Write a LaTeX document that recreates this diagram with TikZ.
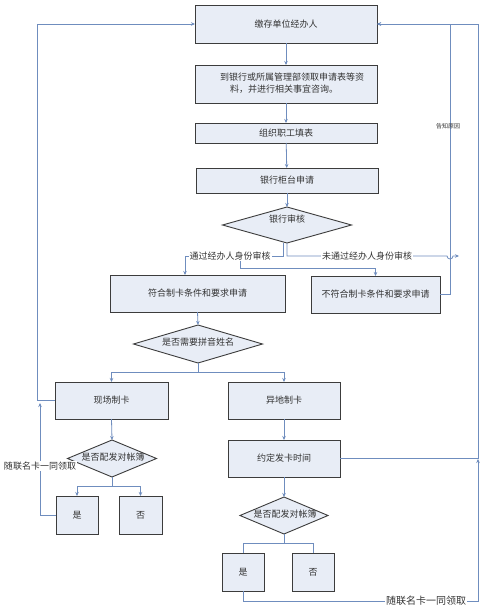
\documentclass[tikz,border=0pt]{standalone}
\usepackage{fontspec}
\setmainfont{Noto Sans CJK SC}
\usetikzlibrary{shapes.geometric,arrows.meta,calc}
\definecolor{ln}{HTML}{6F8DBE}
\definecolor{bx}{HTML}{E8EDF6}
\definecolor{bd}{HTML}{3C3C3C}
\definecolor{tx}{HTML}{333333}
\tikzset{
  box/.style={draw=bd,line width=0.9pt,fill=bx,inner sep=0pt,outer sep=0pt,font=\fontsize{9}{11}\selectfont,text=tx},
  diam/.style={diamond,draw=bd,line width=0.9pt,fill=bx,inner sep=0pt,outer sep=0pt},
  lbl/.style={font=\fontsize{9}{11}\selectfont,text=tx,inner sep=1pt},
  conn/.style={draw=ln,line width=0.8pt},
  arr/.style={conn,-{Stealth[length=4pt,width=3.5pt]}}
}
\begin{document}
\begin{tikzpicture}[x=1pt,y=-1pt]
\useasboundingbox[fill=white] (0,0) rectangle (494,612);
% boxes
\node[box,minimum width=182,minimum height=38] (b1) at (286,24) {缴存单位经办人};
\node[box,minimum width=182,minimum height=38] (b2) at (286,84) {};
\node[lbl,anchor=north west,align=left,font=\fontsize{9}{12}\selectfont] (b2t) at (219,72) {到银行或所属管理部领取申请表等资\\\hspace*{10pt}料，并进行相关事宜咨询。};
\node[box,minimum width=182,minimum height=20] (b3) at (286,133) {组织职工填表};
\node[box,minimum width=182,minimum height=25] (b4) at (287,180.5) {银行柜台申请};
\node[diam,minimum width=129,minimum height=36] (d1) at (287,225) {};
\node[lbl] (d1t) at (287,219) {银行审核};
\node[box,minimum width=175,minimum height=37] (b5) at (197.5,293.5) {符合制卡条件和要求申请};
\node[box,minimum width=129,minimum height=37] (b6) at (375.5,294.5) {不符合制卡条件和要求申请};
\node[diam,minimum width=129,minimum height=38] (d2) at (198,344) {};
\node[lbl] (d2t) at (198,342) {是否需要拼音姓名};
\node[box,minimum width=113,minimum height=37] (b7) at (111.5,400.5) {现场制卡};
\node[box,minimum width=112,minimum height=37] (b8) at (284,400.5) {异地制卡};
\node[diam,minimum width=89,minimum height=37] (d3) at (112,458.5) {};
\node[lbl] (d3t) at (113,457) {是否配发对帐簿};
\node[box,minimum width=42,minimum height=38] (b9) at (77,515) {是};
\node[box,minimum width=43,minimum height=38] (b10) at (140.5,515) {否};
\node[box,minimum width=112,minimum height=37] (b11) at (284,458.5) {约定发卡时间};
\node[diam,minimum width=88,minimum height=37] (d4) at (284,515.5) {};
\node[lbl] (d4t) at (285,514) {是否配发对帐簿};
\node[box,minimum width=42,minimum height=38] (b12) at (243,572) {是};
\node[box,minimum width=42,minimum height=38] (b13) at (313,572) {否};
% main chain
\draw[arr] (b1) -- (b2);
\draw[arr] (b2) -- (b3);
\draw[arr] (b3) -- (b4);
\draw[arr] (b4.south) -- (d1.north);
% pass
\coordinate (pA) at ($(d1.south)+(-4,0)$);
\coordinate (pB) at (240,256);
\draw[arr] (pA) -- (283,256) -- (185,256) -- (185,275);
\draw[arr] (pB) -- (240,268) -- (375.5,268) -- (b6.north);
\node[lbl,fill=white] (passl) at (230,256) {通过经办人身份审核};
% fail
\coordinate (hopc) at (450,256);
\draw[arr] (d1.south) -- (287,256) -- (447,256) arc[start angle=180,end angle=0,radius=3] -- (459,256);
\node[lbl,fill=white] (faill) at (367,256) {未通过经办人身份审核};
% inform reason
\draw[arr] (b6.east) -- (450,294.5) -- (450,24) -- (b1.east);
\node[lbl,font=\fontsize{6}{7}\selectfont] (gz) at (448,126) {告知原因};
% right loop
\draw[conn] (b12.south) -- (243,601) -- (478,601) -- (478,462);
\draw[arr] (478,468) -- (478,459);
\draw[arr] (478,459) -- (478,24) -- (b1.east);
\draw[conn] (b11.east) -- (478,458.5);
\node[lbl,fill=white,font=\fontsize{10}{12}\selectfont] (sl1) at (426,601) {随联名卡一同领取};
% left loop
\draw[arr] (b7.west) -- (37,400.5) -- (37,24) -- (b1.west);
\draw[arr] (b9.west) -- (40,515) -- (40,403);
\node[lbl,fill=white] (sl2) at (40,466) {随联名卡一同领取};
% d2 branches
\draw[arr] (b5.south) -- (d2.north);
\draw[arr] (d2.south) -- (198,372) -| (b7.north);
\draw[arr] (198,372) -| (b8.north);
% left bottom
\draw[arr] (b7.south) -- (d3.north);
\draw[arr] (d3.south) -- (112,486) -| (b9.north);
\draw[arr] (112,486) -| (b10.north);
% right bottom
\draw[arr] (b8) -- (b11);
\draw[arr] (b11.south) -- (d4.north);
\draw[conn] (d4.south) -- (284,543) -| (b12.north);
\draw[conn] (284,543) -| (b13.north);
\end{tikzpicture}
\end{document}
